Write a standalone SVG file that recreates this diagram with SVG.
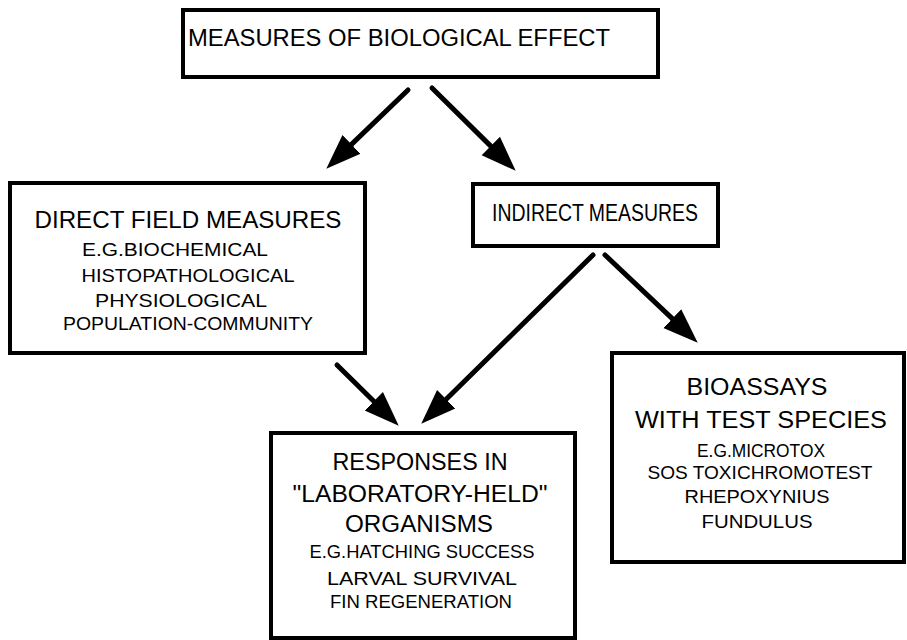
<svg xmlns="http://www.w3.org/2000/svg" width="907" height="640" viewBox="0 0 907 640">
<style>
.box{fill:#fff;stroke:#000;stroke-width:4}
.t{font-family:"Liberation Sans",Arial,sans-serif;fill:#000;text-anchor:middle}
.h{font-size:23px}
.s{font-size:18px}
.b{font-size:23px}
.c{stroke:#000;stroke-width:5;stroke-linecap:round;fill:none}
</style>
<defs>
<marker id="ah" markerUnits="userSpaceOnUse" markerWidth="36" markerHeight="28" refX="0" refY="14" orient="auto" viewBox="0 0 36 28">
<path d="M0,1 L35,14 L0,27 z" fill="#000"/>
</marker>
</defs>
<rect width="907" height="640" fill="#fff"/>
<g id="top">
<rect class="box" x="183" y="10" width="475" height="67"/>
<text class="t h" x="399" y="46" textLength="422" lengthAdjust="spacingAndGlyphs">MEASURES OF BIOLOGICAL EFFECT</text>
</g>
<g id="direct">
<rect class="box" x="10" y="183" width="355" height="170"/>
<text class="t h" x="188" y="228" textLength="307" lengthAdjust="spacingAndGlyphs">DIRECT FIELD MEASURES</text>
<text class="t s" x="175" y="256" textLength="186" lengthAdjust="spacingAndGlyphs">E.G.BIOCHEMICAL</text>
<text class="t s" x="188" y="282" textLength="213" lengthAdjust="spacingAndGlyphs">HISTOPATHOLOGICAL</text>
<text class="t s" x="181" y="307" textLength="172" lengthAdjust="spacingAndGlyphs">PHYSIOLOGICAL</text>
<text class="t s" x="188" y="330" textLength="250" lengthAdjust="spacingAndGlyphs">POPULATION-COMMUNITY</text>
</g>
<g id="indirect">
<rect class="box" x="473" y="184" width="245" height="62"/>
<text class="t h" x="595" y="221" textLength="206" lengthAdjust="spacingAndGlyphs">INDIRECT MEASURES</text>
</g>
<g id="responses">
<rect class="box" x="271" y="433" width="304" height="205"/>
<text class="t b" x="420" y="470" textLength="175" lengthAdjust="spacingAndGlyphs">RESPONSES IN</text>
<text class="t b" x="420" y="502" textLength="255" lengthAdjust="spacingAndGlyphs">"LABORATORY-HELD"</text>
<text class="t b" x="419" y="532" textLength="148" lengthAdjust="spacingAndGlyphs">ORGANISMS</text>
<text class="t s" x="422" y="558" textLength="225" lengthAdjust="spacingAndGlyphs">E.G.HATCHING SUCCESS</text>
<text class="t s" x="422" y="585" textLength="190" lengthAdjust="spacingAndGlyphs">LARVAL SURVIVAL</text>
<text class="t s" x="421" y="608" textLength="182" lengthAdjust="spacingAndGlyphs">FIN REGENERATION</text>
</g>
<g id="bioassays">
<rect class="box" x="612" y="353" width="292" height="209"/>
<text class="t b" x="757" y="395" textLength="141" lengthAdjust="spacingAndGlyphs">BIOASSAYS</text>
<text class="t b" x="761" y="428" textLength="252" lengthAdjust="spacingAndGlyphs">WITH TEST SPECIES</text>
<text class="t s" x="761" y="457" textLength="128" lengthAdjust="spacingAndGlyphs">E.G.MICROTOX</text>
<text class="t s" x="760" y="479" textLength="225" lengthAdjust="spacingAndGlyphs">SOS TOXICHROMOTEST</text>
<text class="t s" x="757" y="503" textLength="145" lengthAdjust="spacingAndGlyphs">RHEPOXYNIUS</text>
<text class="t s" x="757" y="528" textLength="111" lengthAdjust="spacingAndGlyphs">FUNDULUS</text>
</g>
<g id="connectors">
<line class="c" x1="408" y1="90" x2="351.5" y2="144.4" marker-end="url(#ah)"/>
<line class="c" x1="432" y1="88" x2="490.8" y2="146.1" marker-end="url(#ah)"/>
<line class="c" x1="593" y1="255" x2="446.2" y2="399.2" marker-end="url(#ah)"/>
<line class="c" x1="605" y1="255" x2="672.3" y2="318.6" marker-end="url(#ah)"/>
<line class="c" x1="337" y1="365" x2="373.8" y2="401.2" marker-end="url(#ah)"/>
</g>
</svg>
